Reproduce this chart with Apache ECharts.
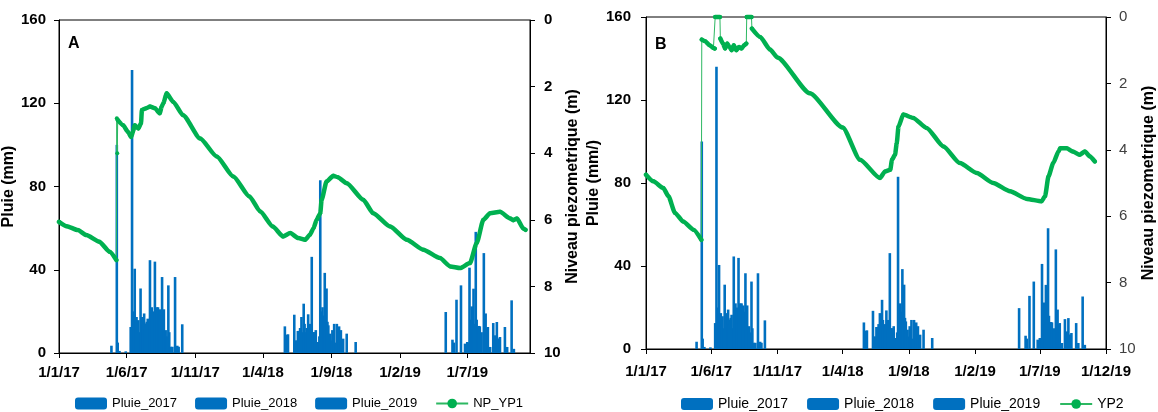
<!DOCTYPE html>
<html>
<head>
<meta charset="utf-8">
<script src="https://cdn.jsdelivr.net/npm/echarts@6/dist/echarts.min.js"></script>
<style>
  html, body { margin: 0; padding: 0; background: #fff; }
  #chart { width: 1158px; height: 412px; }
</style>
</head>
<body>
<div id="chart"></div>
<script>
// x axis ticks (d/m/yy)
const ticksA = ['2017-01-01', '2017-06-01', '2017-11-01', '2018-04-01', '2018-09-01', '2019-02-01', '2019-07-01'];
const ticksB = ticksA.concat(['2019-12-01']);

// daily rain (mm)
const pluie2017 = [
  ['2017-04-28', 3.5], ['2017-05-10', 100], ['2017-05-12', 5], ['2017-05-16', 1], ['2017-05-30', 0.8],
  ['2017-06-10', 12.5], ['2017-06-13', 136], ['2017-06-16', 20], ['2017-06-19', 40.5], ['2017-06-21', 15],
  ['2017-06-23', 17.3], ['2017-06-25', 12], ['2017-06-27', 15.8], ['2017-06-29', 10], ['2017-07-02', 31],
  ['2017-07-04', 16], ['2017-07-06', 17.3], ['2017-07-08', 14], ['2017-07-10', 19], ['2017-07-12', 12],
  ['2017-07-14', 14.2], ['2017-07-16', 15], ['2017-07-18', 16.5], ['2017-07-20', 10], ['2017-07-23', 44.6],
  ['2017-07-25', 18], ['2017-07-27', 22], ['2017-07-31', 20], ['2017-08-03', 43.9], ['2017-08-05', 20],
  ['2017-08-07', 22], ['2017-08-10', 22], ['2017-08-12', 19], ['2017-08-14', 21], ['2017-08-17', 18],
  ['2017-08-19', 36.5], ['2017-08-21', 20], ['2017-08-23', 21], ['2017-08-27', 11], ['2017-08-29', 8],
  ['2017-09-02', 32.5], ['2017-09-04', 10], ['2017-09-07', 3], ['2017-09-11', 3], ['2017-09-17', 36.5],
  ['2017-09-22', 3.5], ['2017-09-25', 3], ['2017-10-03', 13.8]
];
const pluie2018 = [
  ['2018-05-20', 12.8], ['2018-05-23', 8.8], ['2018-05-27', 9], ['2018-06-10', 18.4], ['2018-06-13', 6],
  ['2018-06-15', 6], ['2018-06-18', 10.6], ['2018-06-20', 10.6], ['2018-06-23', 12], ['2018-06-26', 17.3],
  ['2018-06-28', 10], ['2018-07-01', 23.7], ['2018-07-03', 14], ['2018-07-05', 10], ['2018-07-08', 12],
  ['2018-07-11', 18.6], ['2018-07-13', 12], ['2018-07-15', 14], ['2018-07-19', 46.2], ['2018-07-21', 10],
  ['2018-07-24', 10], ['2018-07-26', 10], ['2018-07-28', 11], ['2018-08-02', 5.3], ['2018-08-05', 8],
  ['2018-08-07', 83], ['2018-08-09', 20], ['2018-08-12', 22], ['2018-08-15', 18], ['2018-08-17', 38.5],
  ['2018-08-19', 20], ['2018-08-21', 31], ['2018-08-23', 15], ['2018-08-25', 13.3], ['2018-08-29', 9.3],
  ['2018-09-01', 6], ['2018-09-03', 11], ['2018-09-05', 7], ['2018-09-07', 14], ['2018-09-10', 5],
  ['2018-09-13', 14], ['2018-09-16', 4], ['2018-09-18', 12.8], ['2018-09-22', 11], ['2018-09-27', 6.9],
  ['2018-10-05', 9.3], ['2018-10-25', 5.3]
];
const pluie2019 = [
  ['2019-05-14', 19.7], ['2019-05-29', 6.4], ['2019-06-01', 5], ['2019-06-07', 25.6], ['2019-06-17', 32.5],
  ['2019-06-26', 4.5], ['2019-07-01', 5.3], ['2019-07-03', 5], ['2019-07-06', 41], ['2019-07-08', 16],
  ['2019-07-11', 22.4], ['2019-07-13', 12], ['2019-07-15', 30.9], ['2019-07-17', 14], ['2019-07-20', 58.2],
  ['2019-07-22', 16], ['2019-07-24', 12.5], ['2019-07-27', 13], ['2019-07-29', 12.8], ['2019-08-02', 10],
  ['2019-08-07', 48], ['2019-08-09', 16], ['2019-08-11', 19], ['2019-08-14', 12], ['2019-08-16', 12.5],
  ['2019-08-21', 2.9], ['2019-08-28', 14.4], ['2019-08-30', 6], ['2019-09-01', 8.5], ['2019-09-05', 14.9],
  ['2019-09-08', 7], ['2019-09-12', 7.7], ['2019-09-23', 12.5], ['2019-09-28', 2.9], ['2019-10-08', 25.3],
  ['2019-10-13', 2]
];

// piezometric level (m below surface)
const niveauYP1 = [
  ['2017-01-01', 6.06], ['2017-01-18', 6.19], ['2017-02-12', 6.31], ['2017-03-03', 6.46], ['2017-04-01', 6.66],
  ['2017-04-24', 6.96], ['2017-05-09', 7.21], ['2017-05-10', 2.95], ['2017-05-11', 4.0], ['2017-05-12', 3.0],
  ['2017-05-24', 3.16], ['2017-06-04', 3.36], ['2017-06-11', 3.51], ['2017-06-15', 3.36], ['2017-06-19', 3.16],
  ['2017-06-27', 3.26], ['2017-07-03', 3.1], ['2017-07-05', 2.7], ['2017-07-15', 2.65], ['2017-07-23', 2.6],
  ['2017-08-03', 2.65], ['2017-08-14', 2.8], ['2017-08-18', 2.6], ['2017-08-22', 2.5], ['2017-08-29', 2.2],
  ['2017-09-13', 2.46], ['2017-10-05', 2.86], ['2017-11-12', 3.56], ['2017-12-19', 4.1], ['2018-01-25', 4.7],
  ['2018-03-02', 5.3], ['2018-03-26', 5.75], ['2018-04-23', 6.2], ['2018-05-16', 6.5], ['2018-06-01', 6.4],
  ['2018-06-19', 6.55], ['2018-07-04', 6.6], ['2018-07-15', 6.45], ['2018-07-23', 6.25], ['2018-07-30', 6.0],
  ['2018-08-07', 5.8], ['2018-08-10', 5.4], ['2018-08-21', 4.85], ['2018-09-05', 4.68], ['2018-09-15', 4.72],
  ['2018-10-05', 4.9], ['2018-11-11', 5.4], ['2018-12-03', 5.8], ['2019-01-10', 6.2], ['2019-02-16', 6.6],
  ['2019-03-25', 6.9], ['2019-05-01', 7.15], ['2019-05-24', 7.4], ['2019-06-15', 7.45], ['2019-07-07', 7.3],
  ['2019-07-22', 6.7], ['2019-08-06', 6.0], ['2019-08-21', 5.8], ['2019-09-12', 5.76], ['2019-10-05', 5.96],
  ['2019-10-12', 6.01], ['2019-10-20', 5.96], ['2019-11-03', 6.26], ['2019-11-08', 6.3]
];
const niveauYP2 = [
  ['2017-01-01', 4.75], ['2017-01-18', 4.95], ['2017-02-10', 5.15], ['2017-02-22', 5.4], ['2017-03-09', 5.9],
  ['2017-03-28', 6.16], ['2017-04-21', 6.41], ['2017-05-09', 6.71], ['2017-05-10', 0.68], ['2017-05-18', 0.73],
  ['2017-05-28', 0.85], ['2017-06-06', 0.93], ['2017-06-09', 0.95], ['2017-06-10', 0], ['2017-06-21', 0],
  ['2017-06-22', 0.65], ['2017-06-28', 0.8], ['2017-07-03', 0.95], ['2017-07-08', 0.8], ['2017-07-13', 0.9],
  ['2017-07-18', 1.0], ['2017-07-23', 0.85], ['2017-07-29', 1.0], ['2017-08-04', 0.9], ['2017-08-10', 0.95],
  ['2017-08-16', 0.85], ['2017-08-21', 0.8], ['2017-08-22', 0], ['2017-09-02', 0], ['2017-09-03', 0.35],
  ['2017-09-22', 0.6], ['2017-10-15', 0.98], ['2017-11-01', 1.22], ['2018-01-15', 2.3], ['2018-04-01', 3.33],
  ['2018-05-11', 4.3], ['2018-06-26', 4.85], ['2018-07-08', 4.65], ['2018-07-20', 4.6], ['2018-07-24', 4.3],
  ['2018-07-31', 4.15], ['2018-08-04', 3.8], ['2018-08-08', 3.3], ['2018-08-19', 2.94], ['2018-09-11', 3.04],
  ['2018-10-12', 3.34], ['2018-11-20', 3.9], ['2018-12-28', 4.4], ['2019-02-05', 4.7], ['2019-03-15', 5.0],
  ['2019-04-23', 5.25], ['2019-06-01', 5.48], ['2019-07-05', 5.55], ['2019-07-13', 5.4], ['2019-07-21', 4.8],
  ['2019-08-01', 4.4], ['2019-08-13', 4.05], ['2019-08-17', 3.95], ['2019-09-01', 3.95], ['2019-09-15', 4.05],
  ['2019-10-01', 4.15], ['2019-10-13', 4.05], ['2019-10-25', 4.2], ['2019-11-05', 4.35]
];

const BLUE = '#0070C0';
const GREEN = '#00B050';
const FONT = 'Liberation Sans';

function ts(s) {
  const p = s.split('-').map(Number);
  return new Date(p[0], p[1] - 1, p[2]).getTime();
}
function fmtDate(v) {
  const d = new Date(v);
  return d.getDate() + '/' + (d.getMonth() + 1) + '/' + String(d.getFullYear()).slice(2);
}
function toPts(rows) {
  return rows.map(r => [ts(r[0]), r[1]]);
}
// thick trace: broken where the level jumps from one day to the next
// (those jumps are only drawn by the thin trace, as in the original)
function thickPts(rows) {
  const out = [];
  rows.forEach((r, i) => {
    if (i > 0) {
      const p = rows[i - 1];
      const days = (ts(r[0]) - ts(p[0])) / 864e5;
      if (days <= 1.5 && Math.abs(r[1] - p[1]) > 0.25) {
        out.push([(ts(r[0]) + ts(p[0])) / 2, '-']);
      }
    }
    out.push([ts(r[0]), r[1]]);
  });
  return out;
}

// dates on a plain value axis (timestamps) so the tick dates can be given exactly
function xAxis(gridIndex, ticks, max, margin) {
  const vals = ticks.map(ts);
  return {
    type: 'value', gridIndex: gridIndex,
    min: ts('2017-01-01'), max: ts(max), scale: true,
    axisLine: { onZero: false, lineStyle: { color: '#000', width: 1 } },
    axisTick: { show: true, customValues: vals, length: 5, lineStyle: { color: '#000' } },
    axisLabel: {
      customValues: vals, formatter: fmtDate, margin: margin,
      color: '#000', fontFamily: FONT, fontSize: 15, fontWeight: 'bold'
    },
    splitLine: { show: false }
  };
}
function leftAxis(gridIndex, name, gap, margin) {
  return {
    type: 'value', gridIndex: gridIndex, position: 'left',
    min: 0, max: 160, interval: 40,
    name: name, nameLocation: 'middle', nameGap: gap,
    nameTextStyle: { color: '#000', fontFamily: FONT, fontSize: 16, fontWeight: 'bold' },
    axisLine: { show: true, lineStyle: { color: '#000' } },
    axisTick: { show: true, length: 5, lineStyle: { color: '#000' } },
    axisLabel: { color: '#000', fontFamily: FONT, fontSize: 15, fontWeight: 'bold', margin: margin },
    splitLine: { show: false }
  };
}
function rightAxis(gridIndex, light, gap) {
  return {
    type: 'value', gridIndex: gridIndex, position: 'right',
    min: 0, max: 10, interval: 2, inverse: true,
    name: 'Niveau piezometrique (m)', nameLocation: 'middle', nameGap: gap,
    nameTextStyle: { color: '#000', fontFamily: FONT, fontSize: 16, fontWeight: 'bold' },
    axisLine: { show: true, lineStyle: { color: '#000' } },
    axisTick: { show: true, length: 5, lineStyle: { color: '#000' } },
    axisLabel: light
      ? { color: '#404040', fontFamily: FONT, fontSize: 15, margin: 13 }
      : { color: '#000', fontFamily: FONT, fontSize: 15, fontWeight: 'bold', margin: 14 },
    splitLine: { show: false }
  };
}
function rainSeries(name, rows, xi, yi) {
  return {
    name: name, type: 'bar', xAxisIndex: xi, yAxisIndex: yi,
    data: toPts(rows), barWidth: 2.6, barGap: '-100%',
    itemStyle: { color: BLUE }, emphasis: { disabled: true }, animation: false
  };
}
function levelSeries(name, rows, xi, yi) {
  return [{
    name: name, type: 'line', xAxisIndex: xi, yAxisIndex: yi,
    data: toPts(rows), symbol: 'circle', symbolSize: 4, showSymbol: true,
    lineStyle: { color: '#2db862', width: 1 }, itemStyle: { color: GREEN },
    clip: false, z: 3, animation: false
  }, {
    name: name + '_trait', type: 'line', xAxisIndex: xi, yAxisIndex: yi,
    data: thickPts(rows), symbol: 'none', connectNulls: false,
    smooth: 0.2, smoothMonotone: 'x',
    lineStyle: { color: GREEN, width: 4.5, cap: 'round', join: 'round' },
    clip: false, z: 4, animation: false
  }];
}
function legend(left, lineName, size, gap) {
  return {
    left: left, top: 392, itemWidth: 32, itemHeight: 12, itemGap: gap,
    data: ['Pluie_2017', 'Pluie_2018', 'Pluie_2019', lineName],
    textStyle: { color: '#000', fontFamily: FONT, fontSize: size },
    selectedMode: false
  };
}

const chart = echarts.init(document.getElementById('chart'), null, { renderer: 'canvas' });
chart.setOption({
  animation: false,
  backgroundColor: '#fff',
  title: [
    { text: 'A', left: 63, top: 31, textStyle: { fontFamily: FONT, fontSize: 16, fontWeight: 'bold', color: '#000' } },
    { text: 'B', left: 650, top: 32, textStyle: { fontFamily: FONT, fontSize: 16, fontWeight: 'bold', color: '#000' } }
  ],
  legend: [legend(70, 'NP_YP1', 13, 18), legend(676, 'YP2', 14, 19)],
  grid: [
    { left: 59, right: 628, top: 20, bottom: 59, show: true, borderColor: '#000', borderWidth: 1 },
    { left: 646, right: 51, top: 17, bottom: 63, show: true, borderColor: '#000', borderWidth: 1 }
  ],
  xAxis: [xAxis(0, ticksA, '2019-11-18', 12), xAxis(1, ticksB, '2019-12-01', 15)],
  yAxis: [
    leftAxis(0, 'Pluie (mm)', 34, 13), rightAxis(0, false, 32),
    leftAxis(1, 'Pluie (mm/)', 37, 15), rightAxis(1, true, 35)
  ],
  series: [
    rainSeries('Pluie_2017', pluie2017, 0, 0),
    rainSeries('Pluie_2018', pluie2018, 0, 0),
    rainSeries('Pluie_2019', pluie2019, 0, 0),
    ...levelSeries('NP_YP1', niveauYP1, 0, 1),
    rainSeries('Pluie_2017', pluie2017, 1, 2),
    rainSeries('Pluie_2018', pluie2018, 1, 2),
    rainSeries('Pluie_2019', pluie2019, 1, 2),
    ...levelSeries('YP2', niveauYP2, 1, 3)
  ]
});
</script>
</body>
</html>
